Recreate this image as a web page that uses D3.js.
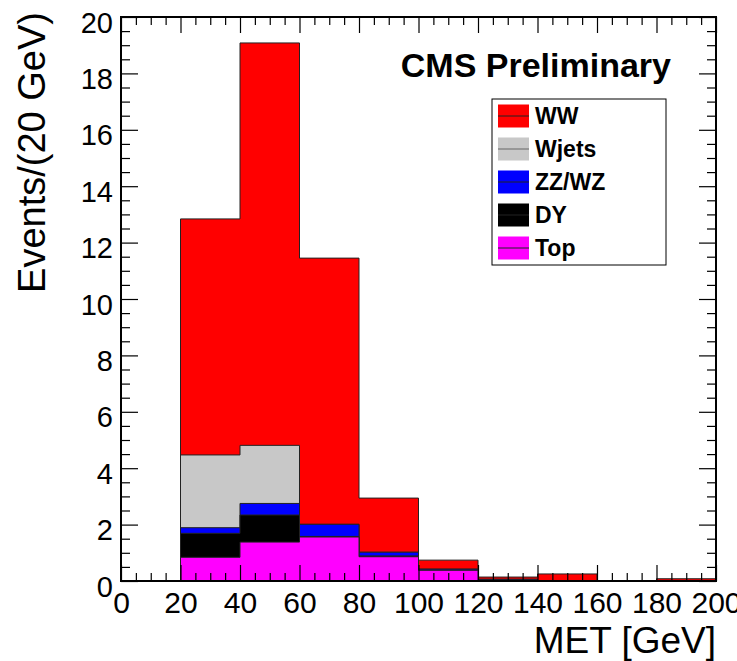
<!DOCTYPE html>
<html>
<head>
<meta charset="utf-8">
<script src="https://cdn.jsdelivr.net/npm/d3@7"></script>
<style>
  body { margin: 0; background: #fff; }
  text { font-family: "Liberation Sans", Arial, Helvetica, sans-serif; }
</style>
</head>
<body>
<div class="myHist"></div>
<script>
// MET distribution, stacked backgrounds (20 GeV bins)
const binEdges = [0, 20, 40, 60, 80, 100, 120, 140, 160, 180, 200];
const topVals   = [0, 0.84, 1.38, 1.56, 0.86, 0.38, 0.03, 0, 0, 0];
const dyVals    = [0, 0.85, 0.96, 0.02, 0.03, 0.00, 0.00, 0, 0, 0];
const zzVals    = [0, 0.20, 0.41, 0.43, 0.13, 0.04, 0.03, 0, 0, 0];
const wjetsVals = [0, 2.58, 2.06, 0.00, 0.00, 0.00, 0.00, 0, 0, 0];
const wwVals    = [0, 8.37, 14.27, 9.44, 1.92, 0.32, 0.08, 0.25, 0, 0.08];
const xTicks = [0, 20, 40, 60, 80, 100, 120, 140, 160, 180, 200];
const yTicks = [0, 2, 4, 6, 8, 10, 12, 14, 16, 18, 20];

// stack order bottom -> top
const series = [
    { name: 'Top',   values: topVals,   color: '#ff00ff' },
    { name: 'DY',    values: dyVals,    color: '#000000' },
    { name: 'ZZ/WZ', values: zzVals,    color: '#0000ff' },
    { name: 'Wjets', values: wjetsVals, color: '#c8c8c8' },
    { name: 'WW',    values: wwVals,    color: '#ff0000' }
];
const legendOrder = ['WW', 'Wjets', 'ZZ/WZ', 'DY', 'Top'];

var width = 737
var height = 661
var plotL = 121, plotR = 716, plotT = 17, plotB = 581

var svg = d3.select('.myHist').append('svg')
    .attr('width', width)
    .attr('height', height)

var xScale = d3.scaleLinear().domain([0, 200]).range([plotL, plotR])
var yScale = d3.scaleLinear().domain([0, 20]).range([plotB, plotT])

// cumulative sums
let running = binEdges.slice(0, -1).map(() => 0)
series.forEach((s) => {
    running = running.map((r, i) => r + s.values[i])
    s.cum = running.slice()
})

const area = d3.area()
    .x((d) => xScale(d[0]))
    .y0(yScale(0))
    .y1((d) => yScale(d[1]))
    .curve(d3.curveStepAfter)

// draw from the total down to the bottom layer
series.slice().reverse().forEach((s) => {
    const pts = s.cum.map((v, i) => [binEdges[i], v])
    pts.push([binEdges[binEdges.length - 1], s.cum[s.cum.length - 1]])
    svg.append('path')
        .datum(pts)
        .attr('d', area)
        .attr('fill', s.color)
        .attr('stroke', '#222')
        .attr('stroke-width', 1)
})

// axes (ticks inside, on all four sides)
const minorX = d3.range(0, 201, 5).filter((v) => v % 20 !== 0)
const minorY = d3.range(0, 20.01, 0.5).filter((v) => Math.abs(v / 2 - Math.round(v / 2)) > 1e-6)

function addAxis(axis, tx, ty) {
    const g = svg.append('g').attr('transform', `translate(${tx}, ${ty})`).call(axis)
    g.select('.domain').remove()
    g.selectAll('line').attr('stroke', '#000').attr('stroke-width', 1.2)
    return g
}

const xAxis = addAxis(d3.axisBottom(xScale).tickValues(xTicks).tickSizeInner(-16).tickSizeOuter(0).tickPadding(11), 0, plotB)
xAxis.selectAll('text').style('font-size', '30px').attr('fill', '#000')
addAxis(d3.axisBottom(xScale).tickValues(minorX).tickSizeInner(-8).tickSizeOuter(0).tickFormat(''), 0, plotB)
addAxis(d3.axisTop(xScale).tickValues(xTicks).tickSizeInner(-16).tickSizeOuter(0).tickFormat(''), 0, plotT)
addAxis(d3.axisTop(xScale).tickValues(minorX).tickSizeInner(-8).tickSizeOuter(0).tickFormat(''), 0, plotT)

const yAxis = addAxis(d3.axisLeft(yScale).tickValues(yTicks).tickSizeInner(-17).tickSizeOuter(0).tickPadding(8), plotL, 0)
yAxis.selectAll('text').style('font-size', '29px').attr('dy', '0.52em').attr('fill', '#000')
addAxis(d3.axisLeft(yScale).tickValues(minorY).tickSizeInner(-9).tickSizeOuter(0).tickFormat(''), plotL, 0)
addAxis(d3.axisRight(yScale).tickValues(yTicks).tickSizeInner(-17).tickSizeOuter(0).tickFormat(''), plotR, 0)
addAxis(d3.axisRight(yScale).tickValues(minorY).tickSizeInner(-9).tickSizeOuter(0).tickFormat(''), plotR, 0)

// frame
svg.append('rect')
    .attr('x', plotL).attr('y', plotT)
    .attr('width', plotR - plotL).attr('height', plotB - plotT)
    .attr('fill', 'none')
    .attr('stroke', '#000')
    .attr('stroke-width', 2)

// axis titles
svg.append('text')
    .attr('x', plotR).attr('y', 653)
    .attr('text-anchor', 'end')
    .style('font-size', '37px')
    .text('MET [GeV]')

svg.append('text')
    .attr('transform', 'translate(45, 12) rotate(-90)')
    .attr('text-anchor', 'end')
    .style('font-size', '38px')
    .text('Events/(20 GeV)')

svg.append('text')
    .attr('x', 671).attr('y', 77)
    .attr('text-anchor', 'end')
    .style('font-size', '34px')
    .style('font-weight', 'bold')
    .text('CMS Preliminary')

// legend
var legend = svg.append('g')
legend.append('rect')
    .attr('x', 492).attr('y', 99)
    .attr('width', 174).attr('height', 166)
    .attr('fill', '#fff')
    .attr('stroke', '#000')
    .attr('stroke-width', 1)

legendOrder.forEach((name, i) => {
    const s = series.find((d) => d.name === name)
    const cy = 116 + i * 33
    legend.append('rect')
        .attr('x', 498).attr('y', cy - 11.5)
        .attr('width', 31).attr('height', 23)
        .attr('fill', s.color)
    legend.append('line')
        .attr('x1', 498).attr('x2', 529)
        .attr('y1', cy).attr('y2', cy)
        .attr('stroke', name === 'Wjets' ? '#666' : '#222')
        .attr('stroke-width', 1)
    legend.append('text')
        .attr('x', 535).attr('y', cy)
        .attr('dy', '0.36em')
        .style('font-size', '23px')
        .style('font-weight', 'bold')
        .text(name)
})
</script>
</body>
</html>
